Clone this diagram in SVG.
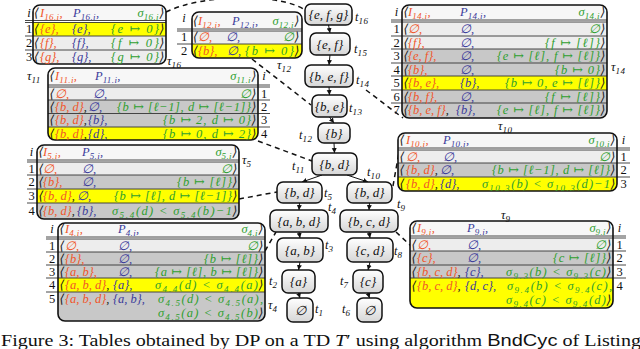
<svg xmlns="http://www.w3.org/2000/svg" width="640" height="349" viewBox="0 0 640 349" font-family="'Liberation Serif', 'DejaVu Serif', serif">
<style>
text{font-family:"Liberation Serif","DejaVu Serif",serif;}
.t{font-size:12.5px;font-style:italic;}
.s{font-size:9px;letter-spacing:0.4px;}
.o{fill:#f0562a;}
.b{fill:#3a3a9a;}
.g{fill:#2f9f2f;}
.k{fill:#1a1a1a;}
.ix{font-size:12.5px;fill:#111;text-anchor:middle;}
.fr{fill:none;stroke:#111;stroke-width:1.6;}
.sp{stroke:#333;stroke-width:0.9;}
.hd{fill:#f7f7f7;}
.lt{fill:#ededed;}
.dk{fill:#c8c8c8;}
.ye{fill:#ffff00;}
.tau{font-size:12.5px;font-style:italic;fill:#111;}
.nd{fill:url(#ng);stroke:#111;stroke-width:1.5;}
.nl{font-size:13px;font-style:italic;fill:#111;text-anchor:middle;}
.tl{font-size:12.5px;font-style:italic;fill:#111;}
.e{stroke:#111;stroke-width:1;fill:none;marker-end:url(#ah);}
.d{stroke:#111;stroke-width:1.5;fill:none;stroke-dasharray:5 4;}
</style>
<defs>
<linearGradient id="ng" x1="0" y1="0" x2="0" y2="1"><stop offset="0" stop-color="#ffffff"/><stop offset="1" stop-color="#d6d6d6"/></linearGradient>
<marker id="ah" markerWidth="6" markerHeight="6" refX="5" refY="3" orient="auto" markerUnits="userSpaceOnUse"><path d="M0,0.5 L5,3 L0,5.5 z" fill="#111"/></marker>
<clipPath id="c16"><rect x="33" y="5" width="133" height="59" rx="7"/></clipPath>
<clipPath id="c12"><rect x="192" y="12" width="110" height="46" rx="7"/></clipPath>
<clipPath id="c11"><rect x="48" y="68" width="210" height="72" rx="7"/></clipPath>
<clipPath id="c5"><rect x="37" y="145" width="202" height="74" rx="7"/></clipPath>
<clipPath id="c4"><rect x="58" y="223" width="207" height="98" rx="7"/></clipPath>
<clipPath id="c14"><rect x="402" y="5" width="205" height="113" rx="7"/></clipPath>
<clipPath id="c10"><rect x="398" y="133" width="219" height="58" rx="7"/></clipPath>
<clipPath id="c9"><rect x="410" y="221" width="203" height="87" rx="7"/></clipPath>
</defs>
<rect width="640" height="349" fill="#ffffff"/>

<g id="connectors">
<path class="d" d="M166,12 C205,-7 282,-6 305,10"/>
<path class="d" d="M252,59 L311,105"/>
<path class="d" d="M366,90 L403,118"/>
<path class="d" d="M258,141 L312,161"/>
<path class="d" d="M239,199 L277,192"/>
<path class="d" d="M265,251 L276,232"/>
<path class="d" d="M393,186 L399,152"/>
<path class="d" d="M396,232 L411,246"/>
<line class="e" x1="328.5" y1="25" x2="330" y2="33"/>
<line class="e" x1="330" y1="55" x2="329" y2="65"/>
<line class="e" x1="329" y1="87" x2="329.5" y2="95"/>
<line class="e" x1="329.5" y1="117" x2="334" y2="123"/>
<line class="e" x1="334" y1="143" x2="334.5" y2="153"/>
<line class="e" x1="322" y1="175" x2="302" y2="182"/>
<line class="e" x1="347" y1="175" x2="368" y2="182"/>
<line class="e" x1="299.5" y1="203" x2="299" y2="210"/>
<line class="e" x1="369.5" y1="203" x2="369" y2="210"/>
<line class="e" x1="299" y1="232" x2="300" y2="238"/>
<line class="e" x1="369" y1="232" x2="370" y2="238"/>
<line class="e" x1="300" y1="262" x2="298.5" y2="270"/>
<line class="e" x1="370" y1="262" x2="368" y2="270"/>
<line class="e" x1="298.5" y1="293" x2="300" y2="298"/>
<line class="e" x1="368" y1="293" x2="369.5" y2="298"/>
</g>

<g id="tree">
<g id="t16"><rect class="nd" x="305" y="4" width="47" height="21" rx="6" stroke-width="2.6"/><text class="nl" x="328.5" y="19">{e, f, g}</text><text class="tl" x="355" y="21">t<tspan class="s" dy="2.5">16</tspan></text></g>
<g id="t15"><rect class="nd" x="310" y="33" width="40" height="22" rx="6"/><text class="nl" x="330" y="48.5">{e, f}</text><text class="tl" x="354" y="53">t<tspan class="s" dy="2.5">15</tspan></text></g>
<g id="t14"><rect class="nd" x="305" y="65" width="48" height="22" rx="6"/><text class="nl" x="329" y="80.5">{b, e, f}</text><text class="tl" x="356" y="84">t<tspan class="s" dy="2.5">14</tspan></text></g>
<g id="t13"><rect class="nd" x="312" y="95" width="35" height="22" rx="6"/><text class="nl" x="329.5" y="110.5">{b, e}</text><text class="tl" x="349" y="112">t<tspan class="s" dy="2.5">13</tspan></text></g>
<g id="t12"><rect class="nd" x="318" y="123" width="32" height="20" rx="6"/><text class="nl" x="334" y="137.5">{b}</text><text class="tl" x="299" y="139">t<tspan class="s" dy="2.5">12</tspan></text></g>
<g id="t11"><rect class="nd" x="312" y="153" width="45" height="22" rx="6"/><text class="nl" x="334.5" y="168.5">{b, d}</text><text class="tl" x="292" y="170">t<tspan class="s" dy="2.5">11</tspan></text></g>
<g id="t5"><rect class="nd" x="277" y="182" width="45" height="21" rx="6"/><text class="nl" x="299.5" y="197">{b, d}</text><text class="tl" x="324" y="197">t<tspan class="s" dy="2.5">5</tspan></text></g>
<g id="t10"><rect class="nd" x="347" y="182" width="45" height="21" rx="6"/><text class="nl" x="369.5" y="197">{b, d}</text><text class="tl" x="367" y="176">t<tspan class="s" dy="2.5">10</tspan></text></g>
<g id="t4"><rect class="nd" x="270" y="210" width="58" height="22" rx="6"/><text class="nl" x="299" y="225.5">{a, b, d}</text><text class="tl" x="328" y="211">t<tspan class="s" dy="2.5">4</tspan></text></g>
<g id="t9"><rect class="nd" x="340" y="210" width="58" height="22" rx="6"/><text class="nl" x="369" y="225.5">{b, c, d}</text><text class="tl" x="397" y="208">t<tspan class="s" dy="2.5">9</tspan></text></g>
<g id="t3"><rect class="nd" x="277" y="238" width="46" height="24" rx="6"/><text class="nl" x="300" y="254.5">{a, b}</text><text class="tl" x="325" y="249">t<tspan class="s" dy="2.5">3</tspan></text></g>
<g id="t8"><rect class="nd" x="347" y="238" width="46" height="24" rx="6"/><text class="nl" x="370" y="254.5">{c, d}</text><text class="tl" x="394" y="255">t<tspan class="s" dy="2.5">8</tspan></text></g>
<g id="t2"><rect class="nd" x="282" y="270" width="33" height="23" rx="6"/><text class="nl" x="298.5" y="286">{a}</text><text class="tl" x="269" y="285">t<tspan class="s" dy="2.5">2</tspan></text></g>
<g id="t7"><rect class="nd" x="353" y="270" width="30" height="23" rx="6"/><text class="nl" x="368" y="286">{c}</text><text class="tl" x="340" y="285">t<tspan class="s" dy="2.5">7</tspan></text></g>
<g id="t1"><rect class="nd" x="287" y="298" width="26" height="24" rx="6"/><text class="nl" x="300" y="314.5">∅</text><text class="tl" x="315" y="313">t<tspan class="s" dy="2.5">1</tspan></text></g>
<g id="t6"><rect class="nd" x="357" y="298" width="25" height="24" rx="6"/><text class="nl" x="369.5" y="314.5">∅</text><text class="tl" x="342" y="313">t<tspan class="s" dy="2.5">6</tspan></text></g>
</g>

<g id="table16">
<g clip-path="url(#c16)">
<rect class="hd" x="33" y="5" width="133" height="16"/>
<rect class="ye" x="33" y="22" width="133" height="14"/>
<rect class="lt" x="33" y="36" width="133" height="14"/>
<rect class="lt" x="33" y="50" width="133" height="14"/>
</g>
<line class="sp" x1="25" y1="20.5" x2="166" y2="20.5"/><line class="sp" x1="25" y1="22.5" x2="166" y2="22.5"/>
<line class="sp" x1="25" y1="36" x2="166" y2="36"/><line class="sp" x1="25" y1="50" x2="166" y2="50"/>
<rect class="fr" x="33" y="5" width="133" height="59" rx="7"/>
<text class="ix" x="29" y="16.5" font-style="italic">i</text><text class="ix" x="29" y="33">1</text><text class="ix" x="29" y="47">2</text><text class="ix" x="29" y="61">3</text>
<text class="t k" x="34" y="16.5">⟨</text><text class="t o" x="40" y="16.5">I<tspan class="s" dy="3">16.i</tspan><tspan dy="-3">,</tspan></text><text class="t b" x="73" y="16.5">P<tspan class="s" dy="3">16.i</tspan><tspan dy="-3">,</tspan></text><text class="t g" x="159" y="16.5" text-anchor="end">σ<tspan class="s" dy="3">16.i</tspan></text><text class="t k" x="159.5" y="16.5">⟩</text>
<text class="t k" x="34" y="33">⟨</text><text class="t o" x="40" y="33">{e},</text><text class="t b" x="72" y="33">{e},</text><text class="t g" x="159" y="33" text-anchor="end" textLength="48" lengthAdjust="spacing">{e ↦ 0}</text><text class="t k" x="159.5" y="33">⟩</text>
<text class="t k" x="34" y="47">⟨</text><text class="t o" x="40" y="47">{f},</text><text class="t b" x="72" y="47">{f},</text><text class="t g" x="159" y="47" text-anchor="end" textLength="48" lengthAdjust="spacing">{f ↦ 0}</text><text class="t k" x="159.5" y="47">⟩</text>
<text class="t k" x="34" y="60.5">⟨</text><text class="t o" x="40" y="60.5">{g},</text><text class="t b" x="72" y="60.5">{g},</text><text class="t g" x="159" y="60.5" text-anchor="end" textLength="48" lengthAdjust="spacing">{g ↦ 0}</text><text class="t k" x="159.5" y="60.5">⟩</text>
<text class="tau" x="167" y="65">τ<tspan class="s" dy="3">16</tspan></text>
</g>

<g id="table12">
<g clip-path="url(#c12)">
<rect class="hd" x="192" y="12" width="110" height="18"/>
<rect class="lt" x="192" y="31" width="110" height="13"/>
<rect class="ye" x="192" y="44" width="110" height="14"/>
</g>
<line class="sp" x1="177" y1="29" x2="302" y2="29"/><line class="sp" x1="177" y1="31" x2="302" y2="31"/>
<line class="sp" x1="177" y1="44" x2="302" y2="44"/>
<rect class="fr" x="192" y="12" width="110" height="46" rx="7"/>
<text class="ix" x="184" y="22" font-style="italic">i</text><text class="ix" x="184" y="41">1</text><text class="ix" x="184" y="55">2</text>
<text class="t k" x="193" y="25">⟨</text><text class="t o" x="198" y="25">I<tspan class="s" dy="3">12.i</tspan><tspan dy="-3">,</tspan></text><text class="t b" x="232" y="25">P<tspan class="s" dy="3">12.i</tspan><tspan dy="-3">,</tspan></text><text class="t g" x="294" y="25" text-anchor="end">σ<tspan class="s" dy="3">12.i</tspan></text><text class="t k" x="294.5" y="25">⟩</text>
<text class="t k" x="193" y="41">⟨</text><text class="t o" x="198" y="41">∅,</text><text class="t b" x="226" y="41">∅,</text><text class="t g" x="294" y="41" text-anchor="end">∅</text><text class="t k" x="294.5" y="41">⟩</text>
<text class="t k" x="193" y="54.5">⟨</text><text class="t o" x="198" y="54.5">{b},</text><text class="t b" x="227" y="54.5">∅,</text><text class="t g" x="294" y="54.5" text-anchor="end" textLength="49" lengthAdjust="spacing">{b ↦ 0}</text><text class="t k" x="294.5" y="54.5">⟩</text>
<text class="tau" x="277" y="69">τ<tspan class="s" dy="3">12</tspan></text>
</g>

<g id="table11">
<g clip-path="url(#c11)">
<rect class="hd" x="48" y="68" width="210" height="18"/>
<rect class="lt" x="48" y="87" width="210" height="13"/>
<rect class="dk" x="48" y="100" width="210" height="13.5"/>
<rect class="dk" x="48" y="113.5" width="210" height="13.5"/>
<rect class="ye" x="48" y="127" width="210" height="13"/>
</g>
<line class="sp" x1="48" y1="85" x2="270" y2="85"/><line class="sp" x1="48" y1="87" x2="270" y2="87"/>
<line class="sp" x1="48" y1="100" x2="270" y2="100"/><line class="sp" x1="48" y1="113.5" x2="270" y2="113.5"/><line class="sp" x1="48" y1="127" x2="270" y2="127"/>
<rect class="fr" x="48" y="68" width="210" height="72" rx="7"/>
<text class="ix" x="264" y="80" font-style="italic">i</text><text class="ix" x="264" y="97.5">1</text><text class="ix" x="264" y="110.5">2</text><text class="ix" x="264" y="124">3</text><text class="ix" x="264" y="137.5">4</text>
<text class="t k" x="49.5" y="80">⟨</text><text class="t o" x="55" y="80">I<tspan class="s" dy="3">11.i</tspan><tspan dy="-3">,</tspan></text><text class="t b" x="95" y="80">P<tspan class="s" dy="3">11.i</tspan><tspan dy="-3">,</tspan></text><text class="t g" x="251" y="80" text-anchor="end">σ<tspan class="s" dy="3">11.i</tspan></text><text class="t k" x="251.5" y="80">⟩</text>
<text class="t k" x="49.5" y="97.5">⟨</text><text class="t o" x="55" y="97.5">∅,</text><text class="t b" x="93" y="97.5">∅,</text><text class="t g" x="251" y="97.5" text-anchor="end">∅</text><text class="t k" x="251.5" y="97.5">⟩</text>
<text class="t k" x="49.5" y="110.5">⟨</text><text class="t o" x="55" y="110.5">{b, d}<tspan class="k">,</tspan></text><text class="t b" x="88" y="110.5">∅,</text><text class="t g" x="251" y="110.5" text-anchor="end" textLength="134" lengthAdjust="spacing">{b ↦ [ℓ−1], d ↦ [ℓ−1]}</text><text class="t k" x="251.5" y="110.5">⟩</text>
<text class="t k" x="49.5" y="124">⟨</text><text class="t o" x="55" y="124">{b, d}<tspan class="k">,</tspan></text><text class="t b" x="88" y="124">{b},</text><text class="t g" x="251" y="124" text-anchor="end" textLength="88" lengthAdjust="spacing">{b ↦ 2, d ↦ 0}</text><text class="t k" x="251.5" y="124">⟩</text>
<text class="t k" x="49.5" y="137.5">⟨</text><text class="t o" x="55" y="137.5">{b, d}<tspan class="k">,</tspan></text><text class="t b" x="88" y="137.5">{d},</text><text class="t g" x="251" y="137.5" text-anchor="end" textLength="88" lengthAdjust="spacing">{b ↦ 0, d ↦ 2}</text><text class="t k" x="251.5" y="137.5">⟩</text>
<text class="tau" x="27" y="80">τ<tspan class="s" dy="3">11</tspan></text>
</g>

<g id="table5">
<g clip-path="url(#c5)">
<rect class="hd" x="37" y="145" width="202" height="16"/>
<rect class="lt" x="37" y="162" width="202" height="13"/>
<rect class="dk" x="37" y="175" width="202" height="14"/>
<rect class="ye" x="37" y="189" width="202" height="14"/>
<rect class="dk" x="37" y="203" width="202" height="16"/>
</g>
<line class="sp" x1="27" y1="160" x2="239" y2="160"/><line class="sp" x1="27" y1="162" x2="239" y2="162"/>
<line class="sp" x1="27" y1="175" x2="239" y2="175"/><line class="sp" x1="27" y1="189" x2="239" y2="189"/><line class="sp" x1="27" y1="203" x2="239" y2="203"/>
<rect class="fr" x="37" y="145" width="202" height="74" rx="7"/>
<text class="ix" x="31.5" y="156" font-style="italic">i</text><text class="ix" x="31.5" y="172.5">1</text><text class="ix" x="31.5" y="186">2</text><text class="ix" x="31.5" y="200">3</text><text class="ix" x="31.5" y="214.5">4</text>
<text class="t k" x="38.5" y="156">⟨</text><text class="t o" x="43" y="156">I<tspan class="s" dy="3">5.i</tspan><tspan dy="-3">,</tspan></text><text class="t b" x="82" y="156">P<tspan class="s" dy="3">5.i</tspan><tspan dy="-3">,</tspan></text><text class="t g" x="232" y="156" text-anchor="end">σ<tspan class="s" dy="3">5.i</tspan></text><text class="t k" x="232.5" y="156">⟩</text>
<text class="t k" x="38.5" y="172.5">⟨</text><text class="t o" x="43" y="172.5">∅,</text><text class="t b" x="82" y="172.5">∅,</text><text class="t g" x="232" y="172.5" text-anchor="end">∅</text><text class="t k" x="232.5" y="172.5">⟩</text>
<text class="t k" x="38.5" y="186">⟨</text><text class="t o" x="43" y="186">{b},</text><text class="t b" x="82" y="186">∅,</text><text class="t g" x="232" y="186" text-anchor="end" textLength="55" lengthAdjust="spacing">{b ↦ [ℓ]}</text><text class="t k" x="232.5" y="186">⟩</text>
<text class="t k" x="38.5" y="200">⟨</text><text class="t o" x="43" y="200">{b, d}<tspan class="k">,</tspan></text><text class="t b" x="77" y="200">∅,</text><text class="t g" x="232" y="200" text-anchor="end" textLength="118" lengthAdjust="spacing">{b ↦ [ℓ], d ↦ [ℓ−1]}</text><text class="t k" x="232.5" y="200">⟩</text>
<text class="t k" x="38.5" y="214.5">⟨</text><text class="t o" x="43" y="214.5">{b, d}<tspan class="k">,</tspan></text><text class="t b" x="77" y="214.5">{b},</text><text class="t g" x="232" y="214.5" text-anchor="end" textLength="120" lengthAdjust="spacing">σ<tspan class="s" dy="3">5.4</tspan><tspan dy="-3">(d) &lt; σ</tspan><tspan class="s" dy="3">5.4</tspan><tspan dy="-3">(b)−1</tspan></text><text class="t k" x="232.5" y="214.5">⟩</text>
<text class="tau" x="242" y="164">τ<tspan class="s" dy="3">5</tspan></text>
</g>

<g id="table4">
<g clip-path="url(#c4)">
<rect class="hd" x="58" y="223" width="207" height="15"/>
<rect class="lt" x="58" y="239" width="207" height="13"/>
<rect class="dk" x="58" y="252" width="207" height="13"/>
<rect class="dk" x="58" y="265" width="207" height="13"/>
<rect class="ye" x="58" y="278" width="207" height="14"/>
<rect class="dk" x="58" y="292" width="207" height="29"/>
</g>
<line class="sp" x1="46" y1="237" x2="265" y2="237"/><line class="sp" x1="46" y1="239" x2="265" y2="239"/>
<line class="sp" x1="46" y1="252" x2="265" y2="252"/><line class="sp" x1="46" y1="265" x2="265" y2="265"/><line class="sp" x1="46" y1="278" x2="265" y2="278"/><line class="sp" x1="46" y1="292" x2="265" y2="292"/>
<rect class="fr" x="58" y="223" width="207" height="98" rx="7"/>
<text class="ix" x="52" y="233" font-style="italic">i</text><text class="ix" x="52" y="249.5">1</text><text class="ix" x="52" y="262.5">2</text><text class="ix" x="52" y="275.5">3</text><text class="ix" x="52" y="289">4</text><text class="ix" x="52" y="303">5</text>
<text class="t k" x="59.5" y="233">⟨</text><text class="t o" x="65" y="233">I<tspan class="s" dy="3">4.i</tspan><tspan dy="-3">,</tspan></text><text class="t b" x="118" y="233">P<tspan class="s" dy="3">4.i</tspan><tspan dy="-3">,</tspan></text><text class="t g" x="258" y="233" text-anchor="end">σ<tspan class="s" dy="3">4.i</tspan></text><text class="t k" x="258.5" y="233">⟩</text>
<text class="t k" x="59.5" y="249.5">⟨</text><text class="t o" x="65" y="249.5">∅,</text><text class="t b" x="118" y="249.5">∅,</text><text class="t g" x="258" y="249.5" text-anchor="end">∅</text><text class="t k" x="258.5" y="249.5">⟩</text>
<text class="t k" x="59.5" y="262.5">⟨</text><text class="t o" x="65" y="262.5">{b},</text><text class="t b" x="118" y="262.5">∅,</text><text class="t g" x="258" y="262.5" text-anchor="end" textLength="54" lengthAdjust="spacing">{b ↦ [ℓ]}</text><text class="t k" x="258.5" y="262.5">⟩</text>
<text class="t k" x="59.5" y="275.5">⟨</text><text class="t o" x="65" y="275.5">{a, b},</text><text class="t b" x="118" y="275.5">∅,</text><text class="t g" x="258" y="275.5" text-anchor="end" textLength="103" lengthAdjust="spacing">{a ↦ [ℓ], b ↦ [ℓ]}</text><text class="t k" x="258.5" y="275.5">⟩</text>
<text class="t k" x="59.5" y="289">⟨</text><text class="t o" x="65" y="289">{a, b, d}<tspan class="k">,</tspan></text><text class="t b" x="113" y="289">{a},</text><text class="t g" x="258" y="289" text-anchor="end" textLength="103" lengthAdjust="spacing">σ<tspan class="s" dy="3">4.4</tspan><tspan dy="-3">(d) &lt; σ</tspan><tspan class="s" dy="3">4.4</tspan><tspan dy="-3">(a)</tspan></text><text class="t k" x="258.5" y="289">⟩</text>
<text class="t k" x="59.5" y="303">⟨</text><text class="t o" x="65" y="303">{a, b, d}<tspan class="k">,</tspan></text><text class="t b" x="113" y="303">{a, b},</text><text class="t g" x="263" y="303" text-anchor="end" textLength="105" lengthAdjust="spacing">σ<tspan class="s" dy="3">4.5</tspan><tspan dy="-3">(d) &lt; σ</tspan><tspan class="s" dy="3">4.5</tspan><tspan dy="-3">(a),</tspan></text>
<text class="t g" x="258" y="316.5" text-anchor="end" textLength="100" lengthAdjust="spacing">σ<tspan class="s" dy="3">4.5</tspan><tspan dy="-3">(a) &lt; σ</tspan><tspan class="s" dy="3">4.5</tspan><tspan dy="-3">(b)</tspan></text><text class="t k" x="258.5" y="316.5">⟩</text>
<text class="tau" x="268" y="309">τ<tspan class="s" dy="3">4</tspan></text>
</g>

<g id="table14">
<g clip-path="url(#c14)">
<rect class="hd" x="402" y="5" width="205" height="16"/>
<rect class="lt" x="402" y="22" width="205" height="14"/>
<rect class="lt" x="402" y="36" width="205" height="13"/>
<rect class="dk" x="402" y="49" width="205" height="14"/>
<rect class="dk" x="402" y="63" width="205" height="13"/>
<rect class="ye" x="402" y="76" width="205" height="14"/>
<rect class="dk" x="402" y="90" width="205" height="13"/>
<rect class="dk" x="402" y="103" width="205" height="15"/>
</g>
<line class="sp" x1="391" y1="20" x2="607" y2="20"/><line class="sp" x1="391" y1="22" x2="607" y2="22"/>
<line class="sp" x1="391" y1="36" x2="607" y2="36"/><line class="sp" x1="391" y1="49" x2="607" y2="49"/><line class="sp" x1="391" y1="63" x2="607" y2="63"/><line class="sp" x1="391" y1="76" x2="607" y2="76"/><line class="sp" x1="391" y1="90" x2="607" y2="90"/><line class="sp" x1="391" y1="103" x2="607" y2="103"/>
<rect class="fr" x="402" y="5" width="205" height="113" rx="7"/>
<text class="ix" x="396.5" y="16" font-style="italic">i</text><text class="ix" x="396.5" y="33">1</text><text class="ix" x="396.5" y="46.5">2</text><text class="ix" x="396.5" y="60">3</text><text class="ix" x="396.5" y="73.5">4</text><text class="ix" x="396.5" y="87">5</text><text class="ix" x="396.5" y="100.5">6</text><text class="ix" x="396.5" y="114">7</text>
<text class="t k" x="403.5" y="16">⟨</text><text class="t o" x="408" y="16">I<tspan class="s" dy="3">14.i</tspan><tspan dy="-3">,</tspan></text><text class="t b" x="460" y="16">P<tspan class="s" dy="3">14.i</tspan><tspan dy="-3">,</tspan></text><text class="t g" x="600" y="16" text-anchor="end">σ<tspan class="s" dy="3">14.i</tspan></text><text class="t k" x="600.5" y="16">⟩</text>
<text class="t k" x="403.5" y="33">⟨</text><text class="t o" x="408" y="33">∅,</text><text class="t b" x="460" y="33">∅,</text><text class="t g" x="600" y="33" text-anchor="end">∅</text><text class="t k" x="600.5" y="33">⟩</text>
<text class="t k" x="403.5" y="46.5">⟨</text><text class="t o" x="408" y="46.5">{f},</text><text class="t b" x="460" y="46.5">∅,</text><text class="t g" x="600" y="46.5" text-anchor="end" textLength="55" lengthAdjust="spacing">{f ↦ [ℓ]}</text><text class="t k" x="600.5" y="46.5">⟩</text>
<text class="t k" x="403.5" y="60">⟨</text><text class="t o" x="408" y="60">{e, f},</text><text class="t b" x="460" y="60">∅,</text><text class="t g" x="600" y="60" text-anchor="end" textLength="103" lengthAdjust="spacing">{e ↦ [ℓ], f ↦ [ℓ]}</text><text class="t k" x="600.5" y="60">⟩</text>
<text class="t k" x="403.5" y="73.5">⟨</text><text class="t o" x="408" y="73.5">{b},</text><text class="t b" x="460" y="73.5">∅,</text><text class="t g" x="600" y="73.5" text-anchor="end" textLength="45" lengthAdjust="spacing">{b ↦ 0}</text><text class="t k" x="600.5" y="73.5">⟩</text>
<text class="t k" x="403.5" y="87">⟨</text><text class="t o" x="408" y="87">{b, e},</text><text class="t b" x="460" y="87">{b},</text><text class="t g" x="600" y="87" text-anchor="end" textLength="95" lengthAdjust="spacing">{b ↦ 0, e ↦ [ℓ]}</text><text class="t k" x="600.5" y="87">⟩</text>
<text class="t k" x="403.5" y="100.5">⟨</text><text class="t o" x="408" y="100.5">{b, f},</text><text class="t b" x="460" y="100.5">∅,</text><text class="t g" x="600" y="100.5" text-anchor="end" textLength="55" lengthAdjust="spacing">{f ↦ [ℓ]}</text><text class="t k" x="600.5" y="100.5">⟩</text>
<text class="t k" x="403.5" y="114">⟨</text><text class="t o" x="408" y="114">{b, e, f}<tspan class="k">,</tspan></text><text class="t b" x="456" y="114">{b},</text><text class="t g" x="600" y="114" text-anchor="end" textLength="103" lengthAdjust="spacing">{e ↦ [ℓ], f ↦ [ℓ]}</text><text class="t k" x="600.5" y="114">⟩</text>
<text class="tau" x="611" y="71">τ<tspan class="s" dy="3">14</tspan></text>
</g>

<g id="table10">
<g clip-path="url(#c10)">
<rect class="hd" x="398" y="133" width="219" height="16"/>
<rect class="lt" x="398" y="150" width="219" height="13"/>
<rect class="dk" x="398" y="163" width="219" height="14"/>
<rect class="ye" x="398" y="177" width="219" height="14"/>
</g>
<line class="sp" x1="398" y1="148" x2="630" y2="148"/><line class="sp" x1="398" y1="150" x2="630" y2="150"/>
<line class="sp" x1="398" y1="163" x2="630" y2="163"/><line class="sp" x1="398" y1="177" x2="630" y2="177"/>
<rect class="fr" x="398" y="133" width="219" height="58" rx="7"/>
<text class="ix" x="623.5" y="144" font-style="italic">i</text><text class="ix" x="623.5" y="160.5">1</text><text class="ix" x="623.5" y="174">2</text><text class="ix" x="623.5" y="188">3</text>
<text class="t k" x="399.5" y="144">⟨</text><text class="t o" x="406" y="144">I<tspan class="s" dy="3">10.i</tspan><tspan dy="-3">,</tspan></text><text class="t b" x="443" y="144">P<tspan class="s" dy="3">10.i</tspan><tspan dy="-3">,</tspan></text><text class="t g" x="610" y="144" text-anchor="end">σ<tspan class="s" dy="3">10.i</tspan></text><text class="t k" x="610.5" y="144">⟩</text>
<text class="t k" x="399.5" y="160.5">⟨</text><text class="t o" x="406" y="160.5">∅,</text><text class="t b" x="443" y="160.5">∅,</text><text class="t g" x="610" y="160.5" text-anchor="end">∅</text><text class="t k" x="610.5" y="160.5">⟩</text>
<text class="t k" x="399.5" y="174">⟨</text><text class="t o" x="406" y="174">{b, d}<tspan class="k">,</tspan></text><text class="t b" x="440" y="174">∅,</text><text class="t g" x="610" y="174" text-anchor="end" textLength="118" lengthAdjust="spacing">{b ↦ [ℓ−1], d ↦ [ℓ]}</text><text class="t k" x="610.5" y="174">⟩</text>
<text class="t k" x="399.5" y="188">⟨</text><text class="t o" x="406" y="188">{b, d}<tspan class="k">,</tspan></text><text class="t b" x="440" y="188">{d},</text><text class="t g" x="610" y="188" text-anchor="end" textLength="128" lengthAdjust="spacing">σ<tspan class="s" dy="3">10.3</tspan><tspan dy="-3">(b) &lt; σ</tspan><tspan class="s" dy="3">10.3</tspan><tspan dy="-3">(d)−1</tspan></text><text class="t k" x="610.5" y="188">⟩</text>
<text class="tau" x="498" y="130">τ<tspan class="s" dy="3">10</tspan></text>
</g>

<g id="table9">
<g clip-path="url(#c9)">
<rect class="hd" x="410" y="221" width="203" height="16"/>
<rect class="lt" x="410" y="238" width="203" height="13"/>
<rect class="dk" x="410" y="251" width="203" height="14"/>
<rect class="dk" x="410" y="265" width="203" height="13"/>
<rect class="ye" x="410" y="278" width="203" height="30"/>
</g>
<line class="sp" x1="410" y1="236" x2="626" y2="236"/><line class="sp" x1="410" y1="238" x2="626" y2="238"/>
<line class="sp" x1="410" y1="251" x2="626" y2="251"/><line class="sp" x1="410" y1="265" x2="626" y2="265"/><line class="sp" x1="410" y1="278" x2="626" y2="278"/>
<rect class="fr" x="410" y="221" width="203" height="87" rx="7"/>
<text class="ix" x="619.5" y="232" font-style="italic">i</text><text class="ix" x="619.5" y="248.5">1</text><text class="ix" x="619.5" y="262">2</text><text class="ix" x="619.5" y="275.5">3</text><text class="ix" x="619.5" y="290">4</text>
<text class="t k" x="411.5" y="232">⟨</text><text class="t o" x="417" y="232">I<tspan class="s" dy="3">9.i</tspan><tspan dy="-3">,</tspan></text><text class="t b" x="467" y="232">P<tspan class="s" dy="3">9.i</tspan><tspan dy="-3">,</tspan></text><text class="t g" x="606" y="232" text-anchor="end">σ<tspan class="s" dy="3">9.i</tspan></text><text class="t k" x="606.5" y="232">⟩</text>
<text class="t k" x="411.5" y="248.5">⟨</text><text class="t o" x="417" y="248.5">∅,</text><text class="t b" x="467" y="248.5">∅,</text><text class="t g" x="606" y="248.5" text-anchor="end">∅</text><text class="t k" x="606.5" y="248.5">⟩</text>
<text class="t k" x="411.5" y="262">⟨</text><text class="t o" x="417" y="262">{c},</text><text class="t b" x="467" y="262">∅,</text><text class="t g" x="606" y="262" text-anchor="end" textLength="53" lengthAdjust="spacing">{c ↦ [ℓ]}</text><text class="t k" x="606.5" y="262">⟩</text>
<text class="t k" x="411.5" y="275.5">⟨</text><text class="t o" x="417" y="275.5">{b, c, d}<tspan class="k">,</tspan></text><text class="t b" x="465" y="275.5">{c},</text><text class="t g" x="606" y="275.5" text-anchor="end" textLength="100" lengthAdjust="spacing">σ<tspan class="s" dy="3">9.3</tspan><tspan dy="-3">(b) &lt; σ</tspan><tspan class="s" dy="3">9.3</tspan><tspan dy="-3">(c)</tspan></text><text class="t k" x="606.5" y="275.5">⟩</text>
<text class="t k" x="411.5" y="290">⟨</text><text class="t o" x="417" y="290">{b, c, d}<tspan class="k">,</tspan></text><text class="t b" x="465" y="290">{d, c},</text><text class="t g" x="612" y="290" text-anchor="end" textLength="105" lengthAdjust="spacing">σ<tspan class="s" dy="3">9.4</tspan><tspan dy="-3">(b) &lt; σ</tspan><tspan class="s" dy="3">9.4</tspan><tspan dy="-3">(c),</tspan></text>
<text class="t g" x="606" y="304" text-anchor="end" textLength="100" lengthAdjust="spacing">σ<tspan class="s" dy="3">9.4</tspan><tspan dy="-3">(c) &lt; σ</tspan><tspan class="s" dy="3">9.4</tspan><tspan dy="-3">(d)</tspan></text><text class="t k" x="606.5" y="304">⟩</text>
<text class="tau" x="501" y="219">τ<tspan class="s" dy="3">9</tspan></text>
</g>

<text x="1" y="346" font-size="16.5" fill="#111" textLength="640" lengthAdjust="spacingAndGlyphs">Figure 3: Tables obtained by DP on a TD <tspan font-style="italic">T</tspan>′ using algorithm <tspan font-family="'Liberation Sans', sans-serif">BndCyc</tspan> of Listing</text>
</svg>
